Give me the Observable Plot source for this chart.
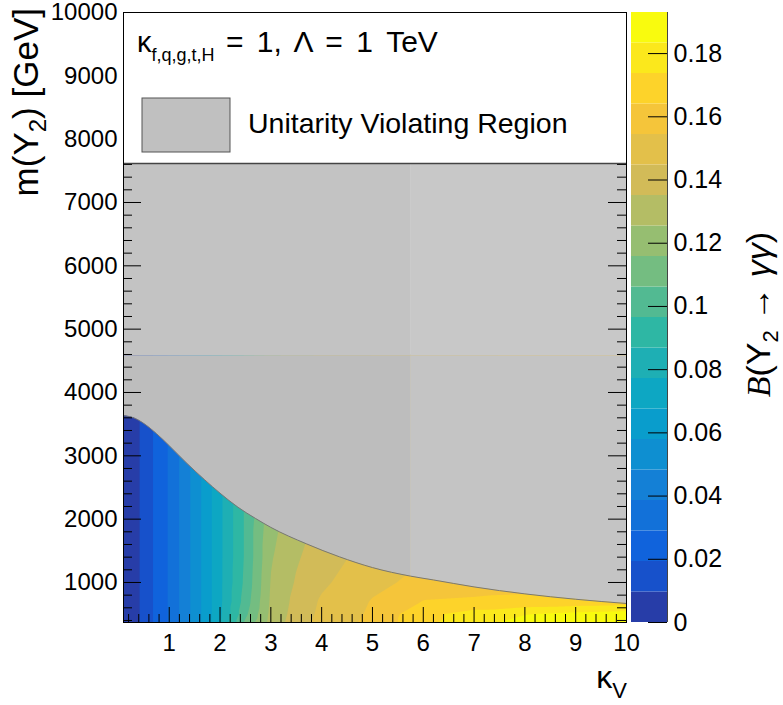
<!DOCTYPE html>
<html><head><meta charset="utf-8">
<script src="https://cdn.jsdelivr.net/npm/d3@7"></script>
<script src="https://cdn.jsdelivr.net/npm/@observablehq/plot@0.6"></script>
<style>
body{margin:0;background:#fff;}
#wrap{position:relative;width:783px;height:705px;}
#wrap svg{position:absolute;top:0;left:0;overflow:visible;max-width:none;}
</style></head><body><div id="wrap"></div>
<script>
// ---------------- data ----------------
const kappaGrid = [0.1, 0.4, 0.7, 1, 1.5, 2, 2.5, 3, 3.5, 4, 5, 6, 7, 8, 9, 10];
const massGrid  = [368, 500, 700, 1000, 1400, 2000, 3000, 4600];
// B(Y2 -> gamma gamma) along kappa_V, one array per mass row
const brAt368  = [0.001, 0.009, 0.020, 0.030, 0.052, 0.076, 0.108, 0.129, 0.140, 0.148, 0.157, 0.171, 0.181, 0.186, 0.189, 0.191];
const brAt500  = [0.001, 0.009, 0.020, 0.030, 0.052, 0.075, 0.104, 0.128, 0.139, 0.147, 0.156, 0.171, 0.178, 0.183, 0.186, 0.188];
const brAt700  = [0.001, 0.009, 0.020, 0.030, 0.052, 0.075, 0.101, 0.127, 0.138, 0.146, 0.155, 0.1645, 0.1655, 0.166, 0.167, 0.168];
const brAt1000 = [0.001, 0.009, 0.020, 0.030, 0.052, 0.075, 0.099, 0.126, 0.136, 0.143, 0.152, 0.157, 0.1595, 0.161, 0.162, 0.163];
const brAt1400 = [0.001, 0.009, 0.020, 0.030, 0.052, 0.075, 0.098, 0.1245, 0.134, 0.140, 0.149, 0.153, 0.156, 0.158, 0.159, 0.160];
const brAt2000 = [0.001, 0.009, 0.020, 0.030, 0.052, 0.075, 0.098, 0.122, 0.131, 0.137, 0.145, 0.150, 0.153, 0.156, 0.158, 0.159];
const brAt3000 = [0.001, 0.009, 0.020, 0.030, 0.052, 0.075, 0.098, 0.122, 0.131, 0.137, 0.145, 0.150, 0.153, 0.156, 0.158, 0.159];
const brAt4600 = [0.001, 0.009, 0.020, 0.030, 0.052, 0.075, 0.098, 0.122, 0.131, 0.137, 0.145, 0.150, 0.153, 0.156, 0.158, 0.159];
const brRows = [brAt368, brAt500, brAt700, brAt1000, brAt1400, brAt2000, brAt3000, brAt4600];

// unitarity boundary m_max(kappa_V)
const boundaryKappa = [0.1, 0.3, 0.5, 0.75, 1, 1.35, 1.7, 2, 2.35, 2.7, 3, 3.7, 4.35, 5, 5.75, 6.2, 7, 8, 9, 10];
const boundaryMass  = [3634, 3600, 3510, 3350, 3160, 2880, 2620, 2410, 2190, 2010, 1870, 1610, 1405, 1235, 1100, 1040, 930, 820, 735, 668];
// grey histogram tile edges of the unitarity-violating region
const greyTileKappaSplit = [5.75];
const greyTileMassSplit = [4580];
const legendBottomMass = [7615];

const xTicks = [1, 2, 3, 4, 5, 6, 7, 8, 9, 10];
const yTicks = [1000, 2000, 3000, 4000, 5000, 6000, 7000, 8000, 9000, 10000];
const zTicks = [0, 0.02, 0.04, 0.06, 0.08, 0.1, 0.12, 0.14, 0.16, 0.18];
const zMax = 0.193;
const nLevels = 20;
const xDomain = [0.1, 10];
const yDomain = [368, 10000];

// ---------------- styling ----------------
const FONT = '"Liberation Sans", Arial, Helvetica, sans-serif';
const W = 783, H = 705;
const M = {left: 123, right: 157, top: 12, bottom: 83};
const FW = W - M.left - M.right, FH = H - M.top - M.bottom;
const birdStops = ["#352a87", "#0f5cdd", "#1481d6", "#06a4ca", "#2eb7a4", "#87bf77", "#d1bb59", "#fec832", "#f9fb0e"];
const bird = d3.piecewise(d3.interpolateRgb, birdStops);
const levels = d3.range(nLevels + 1).map(i => i * zMax / nLevels);
const bandColors = d3.range(nLevels).map(i => bird(Math.floor((i + 0.99) * 255 / nLevels) / 254));
const colorScale = {type: "threshold", domain: levels.slice(1, nLevels), range: bandColors};
const grey = {tl: "#c3c3c3", tr: "#c8c8c8", bl: "#bdbdbd", br: "#c4c4c4"};

// ---------------- tables ----------------
const points = [];
massGrid.forEach((m, j) => kappaGrid.forEach((k, i) => points.push({k, m, v: brRows[j][i]})));
const boundary = boundaryKappa.map((k, i) => ({k, m: boundaryMass[i]}));
const kSplit = greyTileKappaSplit[0], mSplit = greyTileMassSplit[0], mLeg = legendBottomMass[0];
const xMinor = d3.range(1, 50).map(i => +(i * 0.2).toFixed(1)).filter(v => !Number.isInteger(v));
const yMinor = d3.range(2, 50).map(i => i * 200).filter(v => v % 1000 !== 0);

const main = Plot.plot({
  width: W, height: H,
  marginLeft: M.left, marginRight: M.right, marginTop: M.top, marginBottom: M.bottom,
  style: {fontFamily: FONT, fontSize: "24px", background: "white", color: "black"},
  x: {domain: xDomain, label: null},
  y: {domain: yDomain, label: null},
  color: colorScale,
  marks: [
    Plot.contour(points, {x: "k", y: "m", fill: "v", thresholds: levels.slice(0, nLevels),
      interpolate: "barycentric", pixelSize: 1,
      x1: xDomain[0], x2: xDomain[1], y1: yDomain[0], y2: massGrid[massGrid.length - 1], stroke: "none"}),
    Plot.rect([0], {x1: xDomain[0], x2: kSplit, y1: mSplit, y2: mLeg, fill: grey.tl}),
    Plot.rect([0], {x1: kSplit, x2: xDomain[1], y1: mSplit, y2: mLeg, fill: grey.tr}),
    Plot.areaY(boundary.filter(d => d.k <= kSplit), {x: "k", y1: "m", y2: mSplit, fill: grey.bl, curve: "monotone-x"}),
    Plot.areaY(boundary.filter(d => d.k >= kSplit), {x: "k", y1: "m", y2: mSplit, fill: grey.br, curve: "monotone-x"}),
    Plot.line(boundary, {x: "k", y: "m", stroke: "#777", strokeWidth: 1, curve: "monotone-x"}),
    // ticks (ROOT style, inside the frame)
    Plot.tickX(xTicks, {x: d => d, insetTop: FH - 15, stroke: "black"}),
    Plot.tickX(xMinor, {x: d => d, insetTop: FH - 8, stroke: "black"}),
    Plot.tickY(yTicks, {y: d => d, insetRight: FW - 18, stroke: "black"}),
    Plot.tickY(yMinor, {y: d => d, insetRight: FW - 9, stroke: "black"}),
    Plot.tickY(yTicks, {y: d => d, insetLeft: FW - 18, stroke: "black"}),
    Plot.tickY(yMinor, {y: d => d, insetLeft: FW - 9, stroke: "black"}),
    // legend box
    Plot.rect([0], {x1: xDomain[0], x2: xDomain[1], y1: mLeg, y2: yDomain[1], fill: "white"}),
    Plot.ruleY([mLeg], {stroke: "#444", strokeWidth: 1.5}),
    Plot.frame({stroke: "black", strokeWidth: 1}),
    Plot.axisX({ticks: xTicks, tickSize: 0, tickPadding: 11, tickFormat: d => String(d), label: null, fontSize: 24}),
    Plot.axisY({ticks: yTicks, tickSize: 0, tickPadding: 6, tickFormat: d => String(d), label: null, fontSize: 24})
  ]
});

const bandData = d3.range(nLevels).map(i => ({lo: levels[i], hi: levels[i + 1]}));
const cbar = Plot.plot({
  width: W, height: H,
  marginLeft: 631, marginRight: W - 667, marginTop: M.top, marginBottom: M.bottom,
  style: {fontFamily: FONT, fontSize: "24px", background: "transparent", color: "black"},
  x: {domain: [0, 1], axis: null},
  y: {domain: [0, zMax], label: null},
  color: colorScale,
  marks: [
    Plot.rect(bandData, {x1: 0, x2: 1, y1: "lo", y2: "hi", fill: "lo"}),
    Plot.tickY(zTicks, {y: d => d, insetLeft: 17, stroke: "black"}),
    Plot.ruleX([1], {stroke: "#444", strokeWidth: 1}),
    Plot.axisY({anchor: "right", ticks: zTicks, tickSize: 0, tickPadding: 6, tickFormat: d => String(d), label: null, fontSize: 25})
  ]
});

const wrap = document.getElementById("wrap");
wrap.appendChild(main);
wrap.appendChild(cbar);

// ---------------- rich text (titles, legend) ----------------
function addText(svg, {x, y, rotate = 0, anchor = "start", parts, wordSpacing}) {
  const t = d3.select(svg).append("text")
    .attr("transform", `translate(${x},${y}) rotate(${rotate})`)
    .attr("text-anchor", anchor).attr("font-family", FONT).attr("fill", "black");
  if (wordSpacing) t.attr("word-spacing", wordSpacing);
  let shift = 0;
  for (const p of parts) {
    const s = t.append("tspan").text(p.t).attr("font-size", p.size);
    const target = p.sub || 0;
    if (target !== shift) { s.attr("dy", target - shift); shift = target; }
    if (p.style) s.attr("font-style", p.style);
    if (p.family) s.attr("font-family", p.family);
  }
  return t;
}
// legend
d3.select(main).append("rect").attr("x", 142).attr("y", 98).attr("width", 88).attr("height", 54)
  .attr("fill", "#c0c0c0").attr("stroke", "#555").attr("stroke-width", 1);
addText(main, {x: 137, y: 52, parts: [{t: "κ", size: 29}, {t: "f,q,g,t,H", size: 18, sub: 9}]});
addText(main, {x: 226, y: 52, wordSpacing: 5, parts: [{t: "= 1, Λ = 1 TeV", size: 30}]});
addText(main, {x: 248, y: 133, parts: [{t: "Unitarity Violating Region", size: 28.5}]});
// axis titles
addText(main, {x: 627, y: 688, anchor: "end", parts: [{t: "κ", size: 32}, {t: "V", size: 22, sub: 10}]});
addText(main, {x: 38, y: 8, rotate: -90, anchor: "end", parts: [
  {t: "m(Y", size: 35}, {t: "2", size: 24, sub: 8}, {t: ") [GeV]", size: 35, sub: 0}]});
addText(cbar, {x: 770, y: 232, rotate: -90, anchor: "end", parts: [
  {t: "B", size: 34, style: "italic", family: '"Liberation Serif", serif'}, {t: "(Y", size: 34},
  {t: "2", size: 22, sub: 8}, {t: " → ", size: 34, sub: 0}, {t: "γγ", size: 34, style: "italic"}, {t: ")", size: 34}]});
</script>
</body></html>
